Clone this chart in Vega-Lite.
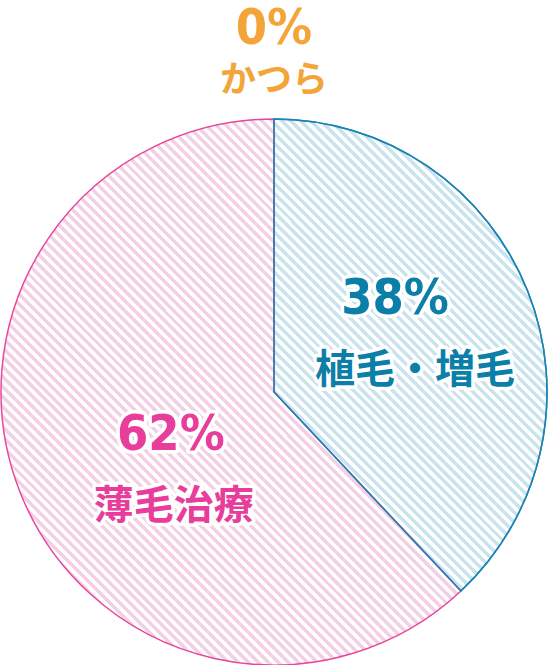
{
"$schema": "https://vega.github.io/schema/vega-lite/v6.json",
"width": 548, "height": 546,
"autosize": "none",
"padding": {"top": 119, "left": 0, "right": 0, "bottom": 0},
"background": "#ffffff",
"config": {"view": {"stroke": null}},
"data": {"values": [
  {"cat": "植毛・増毛", "value": 38, "pct": "38%"},
  {"cat": "薄毛治療", "value": 62, "pct": "62%"},
  {"cat": "かつら", "value": 0, "pct": "0%"}
]},
"encoding": {
  "theta": {"field": "value", "type": "quantitative", "stack": true},
  "order": {"field": "cat", "type": "ordinal", "sort": "ascending"}
},
"layer": [
{
  "mark": {"type": "arc", "strokeWidth": 1.5},
  "encoding": {
    "fill": {"condition": [
      {"test": "datum.cat === '植毛・増毛'", "value": {"gradient": "linear", "x1": 0, "y1": 1, "x2": 0.909, "y2": -0.571, "stops": [
{"offset":0,"color":"#cae4ee"},{"offset":0.005,"color":"#cae4ee"},{"offset":0.005,"color":"#fff"},{"offset":0.01,"color":"#fff"},
{"offset":0.01,"color":"#cae4ee"},{"offset":0.015,"color":"#cae4ee"},{"offset":0.015,"color":"#fff"},{"offset":0.02,"color":"#fff"},
{"offset":0.02,"color":"#cae4ee"},{"offset":0.025,"color":"#cae4ee"},{"offset":0.025,"color":"#fff"},{"offset":0.03,"color":"#fff"},
{"offset":0.03,"color":"#cae4ee"},{"offset":0.035,"color":"#cae4ee"},{"offset":0.035,"color":"#fff"},{"offset":0.04,"color":"#fff"},
{"offset":0.04,"color":"#cae4ee"},{"offset":0.045,"color":"#cae4ee"},{"offset":0.045,"color":"#fff"},{"offset":0.05,"color":"#fff"},
{"offset":0.05,"color":"#cae4ee"},{"offset":0.055,"color":"#cae4ee"},{"offset":0.055,"color":"#fff"},{"offset":0.06,"color":"#fff"},
{"offset":0.06,"color":"#cae4ee"},{"offset":0.065,"color":"#cae4ee"},{"offset":0.065,"color":"#fff"},{"offset":0.07,"color":"#fff"},
{"offset":0.07,"color":"#cae4ee"},{"offset":0.075,"color":"#cae4ee"},{"offset":0.075,"color":"#fff"},{"offset":0.08,"color":"#fff"},
{"offset":0.08,"color":"#cae4ee"},{"offset":0.085,"color":"#cae4ee"},{"offset":0.085,"color":"#fff"},{"offset":0.09,"color":"#fff"},
{"offset":0.09,"color":"#cae4ee"},{"offset":0.095,"color":"#cae4ee"},{"offset":0.095,"color":"#fff"},{"offset":0.1,"color":"#fff"},
{"offset":0.1,"color":"#cae4ee"},{"offset":0.105,"color":"#cae4ee"},{"offset":0.105,"color":"#fff"},{"offset":0.11,"color":"#fff"},
{"offset":0.11,"color":"#cae4ee"},{"offset":0.115,"color":"#cae4ee"},{"offset":0.115,"color":"#fff"},{"offset":0.12,"color":"#fff"},
{"offset":0.12,"color":"#cae4ee"},{"offset":0.125,"color":"#cae4ee"},{"offset":0.125,"color":"#fff"},{"offset":0.13,"color":"#fff"},
{"offset":0.13,"color":"#cae4ee"},{"offset":0.135,"color":"#cae4ee"},{"offset":0.135,"color":"#fff"},{"offset":0.14,"color":"#fff"},
{"offset":0.14,"color":"#cae4ee"},{"offset":0.145,"color":"#cae4ee"},{"offset":0.145,"color":"#fff"},{"offset":0.15,"color":"#fff"},
{"offset":0.15,"color":"#cae4ee"},{"offset":0.155,"color":"#cae4ee"},{"offset":0.155,"color":"#fff"},{"offset":0.16,"color":"#fff"},
{"offset":0.16,"color":"#cae4ee"},{"offset":0.165,"color":"#cae4ee"},{"offset":0.165,"color":"#fff"},{"offset":0.17,"color":"#fff"},
{"offset":0.17,"color":"#cae4ee"},{"offset":0.175,"color":"#cae4ee"},{"offset":0.175,"color":"#fff"},{"offset":0.18,"color":"#fff"},
{"offset":0.18,"color":"#cae4ee"},{"offset":0.185,"color":"#cae4ee"},{"offset":0.185,"color":"#fff"},{"offset":0.19,"color":"#fff"},
{"offset":0.19,"color":"#cae4ee"},{"offset":0.195,"color":"#cae4ee"},{"offset":0.195,"color":"#fff"},{"offset":0.2,"color":"#fff"},
{"offset":0.2,"color":"#cae4ee"},{"offset":0.205,"color":"#cae4ee"},{"offset":0.205,"color":"#fff"},{"offset":0.21,"color":"#fff"},
{"offset":0.21,"color":"#cae4ee"},{"offset":0.215,"color":"#cae4ee"},{"offset":0.215,"color":"#fff"},{"offset":0.22,"color":"#fff"},
{"offset":0.22,"color":"#cae4ee"},{"offset":0.225,"color":"#cae4ee"},{"offset":0.225,"color":"#fff"},{"offset":0.23,"color":"#fff"},
{"offset":0.23,"color":"#cae4ee"},{"offset":0.235,"color":"#cae4ee"},{"offset":0.235,"color":"#fff"},{"offset":0.24,"color":"#fff"},
{"offset":0.24,"color":"#cae4ee"},{"offset":0.245,"color":"#cae4ee"},{"offset":0.245,"color":"#fff"},{"offset":0.25,"color":"#fff"},
{"offset":0.25,"color":"#cae4ee"},{"offset":0.255,"color":"#cae4ee"},{"offset":0.255,"color":"#fff"},{"offset":0.26,"color":"#fff"},
{"offset":0.26,"color":"#cae4ee"},{"offset":0.265,"color":"#cae4ee"},{"offset":0.265,"color":"#fff"},{"offset":0.27,"color":"#fff"},
{"offset":0.27,"color":"#cae4ee"},{"offset":0.275,"color":"#cae4ee"},{"offset":0.275,"color":"#fff"},{"offset":0.28,"color":"#fff"},
{"offset":0.28,"color":"#cae4ee"},{"offset":0.285,"color":"#cae4ee"},{"offset":0.285,"color":"#fff"},{"offset":0.29,"color":"#fff"},
{"offset":0.29,"color":"#cae4ee"},{"offset":0.295,"color":"#cae4ee"},{"offset":0.295,"color":"#fff"},{"offset":0.3,"color":"#fff"},
{"offset":0.3,"color":"#cae4ee"},{"offset":0.305,"color":"#cae4ee"},{"offset":0.305,"color":"#fff"},{"offset":0.31,"color":"#fff"},
{"offset":0.31,"color":"#cae4ee"},{"offset":0.315,"color":"#cae4ee"},{"offset":0.315,"color":"#fff"},{"offset":0.32,"color":"#fff"},
{"offset":0.32,"color":"#cae4ee"},{"offset":0.325,"color":"#cae4ee"},{"offset":0.325,"color":"#fff"},{"offset":0.33,"color":"#fff"},
{"offset":0.33,"color":"#cae4ee"},{"offset":0.335,"color":"#cae4ee"},{"offset":0.335,"color":"#fff"},{"offset":0.34,"color":"#fff"},
{"offset":0.34,"color":"#cae4ee"},{"offset":0.345,"color":"#cae4ee"},{"offset":0.345,"color":"#fff"},{"offset":0.35,"color":"#fff"},
{"offset":0.35,"color":"#cae4ee"},{"offset":0.355,"color":"#cae4ee"},{"offset":0.355,"color":"#fff"},{"offset":0.36,"color":"#fff"},
{"offset":0.36,"color":"#cae4ee"},{"offset":0.365,"color":"#cae4ee"},{"offset":0.365,"color":"#fff"},{"offset":0.37,"color":"#fff"},
{"offset":0.37,"color":"#cae4ee"},{"offset":0.375,"color":"#cae4ee"},{"offset":0.375,"color":"#fff"},{"offset":0.38,"color":"#fff"},
{"offset":0.38,"color":"#cae4ee"},{"offset":0.385,"color":"#cae4ee"},{"offset":0.385,"color":"#fff"},{"offset":0.39,"color":"#fff"},
{"offset":0.39,"color":"#cae4ee"},{"offset":0.395,"color":"#cae4ee"},{"offset":0.395,"color":"#fff"},{"offset":0.4,"color":"#fff"},
{"offset":0.4,"color":"#cae4ee"},{"offset":0.405,"color":"#cae4ee"},{"offset":0.405,"color":"#fff"},{"offset":0.41,"color":"#fff"},
{"offset":0.41,"color":"#cae4ee"},{"offset":0.415,"color":"#cae4ee"},{"offset":0.415,"color":"#fff"},{"offset":0.42,"color":"#fff"},
{"offset":0.42,"color":"#cae4ee"},{"offset":0.425,"color":"#cae4ee"},{"offset":0.425,"color":"#fff"},{"offset":0.43,"color":"#fff"},
{"offset":0.43,"color":"#cae4ee"},{"offset":0.435,"color":"#cae4ee"},{"offset":0.435,"color":"#fff"},{"offset":0.44,"color":"#fff"},
{"offset":0.44,"color":"#cae4ee"},{"offset":0.445,"color":"#cae4ee"},{"offset":0.445,"color":"#fff"},{"offset":0.45,"color":"#fff"},
{"offset":0.45,"color":"#cae4ee"},{"offset":0.455,"color":"#cae4ee"},{"offset":0.455,"color":"#fff"},{"offset":0.46,"color":"#fff"},
{"offset":0.46,"color":"#cae4ee"},{"offset":0.465,"color":"#cae4ee"},{"offset":0.465,"color":"#fff"},{"offset":0.47,"color":"#fff"},
{"offset":0.47,"color":"#cae4ee"},{"offset":0.475,"color":"#cae4ee"},{"offset":0.475,"color":"#fff"},{"offset":0.48,"color":"#fff"},
{"offset":0.48,"color":"#cae4ee"},{"offset":0.485,"color":"#cae4ee"},{"offset":0.485,"color":"#fff"},{"offset":0.49,"color":"#fff"},
{"offset":0.49,"color":"#cae4ee"},{"offset":0.495,"color":"#cae4ee"},{"offset":0.495,"color":"#fff"},{"offset":0.5,"color":"#fff"},
{"offset":0.5,"color":"#cae4ee"},{"offset":0.505,"color":"#cae4ee"},{"offset":0.505,"color":"#fff"},{"offset":0.51,"color":"#fff"},
{"offset":0.51,"color":"#cae4ee"},{"offset":0.515,"color":"#cae4ee"},{"offset":0.515,"color":"#fff"},{"offset":0.52,"color":"#fff"},
{"offset":0.52,"color":"#cae4ee"},{"offset":0.525,"color":"#cae4ee"},{"offset":0.525,"color":"#fff"},{"offset":0.53,"color":"#fff"},
{"offset":0.53,"color":"#cae4ee"},{"offset":0.535,"color":"#cae4ee"},{"offset":0.535,"color":"#fff"},{"offset":0.54,"color":"#fff"},
{"offset":0.54,"color":"#cae4ee"},{"offset":0.545,"color":"#cae4ee"},{"offset":0.545,"color":"#fff"},{"offset":0.55,"color":"#fff"},
{"offset":0.55,"color":"#cae4ee"},{"offset":0.555,"color":"#cae4ee"},{"offset":0.555,"color":"#fff"},{"offset":0.56,"color":"#fff"},
{"offset":0.56,"color":"#cae4ee"},{"offset":0.565,"color":"#cae4ee"},{"offset":0.565,"color":"#fff"},{"offset":0.57,"color":"#fff"},
{"offset":0.57,"color":"#cae4ee"},{"offset":0.575,"color":"#cae4ee"},{"offset":0.575,"color":"#fff"},{"offset":0.58,"color":"#fff"},
{"offset":0.58,"color":"#cae4ee"},{"offset":0.585,"color":"#cae4ee"},{"offset":0.585,"color":"#fff"},{"offset":0.59,"color":"#fff"},
{"offset":0.59,"color":"#cae4ee"},{"offset":0.595,"color":"#cae4ee"},{"offset":0.595,"color":"#fff"},{"offset":0.6,"color":"#fff"},
{"offset":0.6,"color":"#cae4ee"},{"offset":0.605,"color":"#cae4ee"},{"offset":0.605,"color":"#fff"},{"offset":0.61,"color":"#fff"},
{"offset":0.61,"color":"#cae4ee"},{"offset":0.615,"color":"#cae4ee"},{"offset":0.615,"color":"#fff"},{"offset":0.62,"color":"#fff"},
{"offset":0.62,"color":"#cae4ee"},{"offset":0.625,"color":"#cae4ee"},{"offset":0.625,"color":"#fff"},{"offset":0.63,"color":"#fff"},
{"offset":0.63,"color":"#cae4ee"},{"offset":0.635,"color":"#cae4ee"},{"offset":0.635,"color":"#fff"},{"offset":0.64,"color":"#fff"},
{"offset":0.64,"color":"#cae4ee"},{"offset":0.645,"color":"#cae4ee"},{"offset":0.645,"color":"#fff"},{"offset":0.65,"color":"#fff"},
{"offset":0.65,"color":"#cae4ee"},{"offset":0.655,"color":"#cae4ee"},{"offset":0.655,"color":"#fff"},{"offset":0.66,"color":"#fff"},
{"offset":0.66,"color":"#cae4ee"},{"offset":0.665,"color":"#cae4ee"},{"offset":0.665,"color":"#fff"},{"offset":0.67,"color":"#fff"},
{"offset":0.67,"color":"#cae4ee"},{"offset":0.675,"color":"#cae4ee"},{"offset":0.675,"color":"#fff"},{"offset":0.68,"color":"#fff"},
{"offset":0.68,"color":"#cae4ee"},{"offset":0.685,"color":"#cae4ee"},{"offset":0.685,"color":"#fff"},{"offset":0.69,"color":"#fff"},
{"offset":0.69,"color":"#cae4ee"},{"offset":0.695,"color":"#cae4ee"},{"offset":0.695,"color":"#fff"},{"offset":0.7,"color":"#fff"},
{"offset":0.7,"color":"#cae4ee"},{"offset":0.705,"color":"#cae4ee"},{"offset":0.705,"color":"#fff"},{"offset":0.71,"color":"#fff"},
{"offset":0.71,"color":"#cae4ee"},{"offset":0.715,"color":"#cae4ee"},{"offset":0.715,"color":"#fff"},{"offset":0.72,"color":"#fff"},
{"offset":0.72,"color":"#cae4ee"},{"offset":0.725,"color":"#cae4ee"},{"offset":0.725,"color":"#fff"},{"offset":0.73,"color":"#fff"},
{"offset":0.73,"color":"#cae4ee"},{"offset":0.735,"color":"#cae4ee"},{"offset":0.735,"color":"#fff"},{"offset":0.74,"color":"#fff"},
{"offset":0.74,"color":"#cae4ee"},{"offset":0.745,"color":"#cae4ee"},{"offset":0.745,"color":"#fff"},{"offset":0.75,"color":"#fff"},
{"offset":0.75,"color":"#cae4ee"},{"offset":0.755,"color":"#cae4ee"},{"offset":0.755,"color":"#fff"},{"offset":0.76,"color":"#fff"}
      ]}},
      {"test": "datum.cat === '薄毛治療'", "value": {"gradient": "linear", "x1": 0, "y1": 1, "x2": 0.894, "y2": -0.061, "stops": [
{"offset":0,"color":"#f4d0e4"},{"offset":0.005,"color":"#f4d0e4"},{"offset":0.005,"color":"#fff"},{"offset":0.01,"color":"#fff"},
{"offset":0.01,"color":"#f4d0e4"},{"offset":0.015,"color":"#f4d0e4"},{"offset":0.015,"color":"#fff"},{"offset":0.02,"color":"#fff"},
{"offset":0.02,"color":"#f4d0e4"},{"offset":0.025,"color":"#f4d0e4"},{"offset":0.025,"color":"#fff"},{"offset":0.03,"color":"#fff"},
{"offset":0.03,"color":"#f4d0e4"},{"offset":0.035,"color":"#f4d0e4"},{"offset":0.035,"color":"#fff"},{"offset":0.04,"color":"#fff"},
{"offset":0.04,"color":"#f4d0e4"},{"offset":0.045,"color":"#f4d0e4"},{"offset":0.045,"color":"#fff"},{"offset":0.05,"color":"#fff"},
{"offset":0.05,"color":"#f4d0e4"},{"offset":0.055,"color":"#f4d0e4"},{"offset":0.055,"color":"#fff"},{"offset":0.06,"color":"#fff"},
{"offset":0.06,"color":"#f4d0e4"},{"offset":0.065,"color":"#f4d0e4"},{"offset":0.065,"color":"#fff"},{"offset":0.07,"color":"#fff"},
{"offset":0.07,"color":"#f4d0e4"},{"offset":0.075,"color":"#f4d0e4"},{"offset":0.075,"color":"#fff"},{"offset":0.08,"color":"#fff"},
{"offset":0.08,"color":"#f4d0e4"},{"offset":0.085,"color":"#f4d0e4"},{"offset":0.085,"color":"#fff"},{"offset":0.09,"color":"#fff"},
{"offset":0.09,"color":"#f4d0e4"},{"offset":0.095,"color":"#f4d0e4"},{"offset":0.095,"color":"#fff"},{"offset":0.1,"color":"#fff"},
{"offset":0.1,"color":"#f4d0e4"},{"offset":0.105,"color":"#f4d0e4"},{"offset":0.105,"color":"#fff"},{"offset":0.11,"color":"#fff"},
{"offset":0.11,"color":"#f4d0e4"},{"offset":0.115,"color":"#f4d0e4"},{"offset":0.115,"color":"#fff"},{"offset":0.12,"color":"#fff"},
{"offset":0.12,"color":"#f4d0e4"},{"offset":0.125,"color":"#f4d0e4"},{"offset":0.125,"color":"#fff"},{"offset":0.13,"color":"#fff"},
{"offset":0.13,"color":"#f4d0e4"},{"offset":0.135,"color":"#f4d0e4"},{"offset":0.135,"color":"#fff"},{"offset":0.14,"color":"#fff"},
{"offset":0.14,"color":"#f4d0e4"},{"offset":0.145,"color":"#f4d0e4"},{"offset":0.145,"color":"#fff"},{"offset":0.15,"color":"#fff"},
{"offset":0.15,"color":"#f4d0e4"},{"offset":0.155,"color":"#f4d0e4"},{"offset":0.155,"color":"#fff"},{"offset":0.16,"color":"#fff"},
{"offset":0.16,"color":"#f4d0e4"},{"offset":0.165,"color":"#f4d0e4"},{"offset":0.165,"color":"#fff"},{"offset":0.17,"color":"#fff"},
{"offset":0.17,"color":"#f4d0e4"},{"offset":0.175,"color":"#f4d0e4"},{"offset":0.175,"color":"#fff"},{"offset":0.18,"color":"#fff"},
{"offset":0.18,"color":"#f4d0e4"},{"offset":0.185,"color":"#f4d0e4"},{"offset":0.185,"color":"#fff"},{"offset":0.19,"color":"#fff"},
{"offset":0.19,"color":"#f4d0e4"},{"offset":0.195,"color":"#f4d0e4"},{"offset":0.195,"color":"#fff"},{"offset":0.2,"color":"#fff"},
{"offset":0.2,"color":"#f4d0e4"},{"offset":0.205,"color":"#f4d0e4"},{"offset":0.205,"color":"#fff"},{"offset":0.21,"color":"#fff"},
{"offset":0.21,"color":"#f4d0e4"},{"offset":0.215,"color":"#f4d0e4"},{"offset":0.215,"color":"#fff"},{"offset":0.22,"color":"#fff"},
{"offset":0.22,"color":"#f4d0e4"},{"offset":0.225,"color":"#f4d0e4"},{"offset":0.225,"color":"#fff"},{"offset":0.23,"color":"#fff"},
{"offset":0.23,"color":"#f4d0e4"},{"offset":0.235,"color":"#f4d0e4"},{"offset":0.235,"color":"#fff"},{"offset":0.24,"color":"#fff"},
{"offset":0.24,"color":"#f4d0e4"},{"offset":0.245,"color":"#f4d0e4"},{"offset":0.245,"color":"#fff"},{"offset":0.25,"color":"#fff"},
{"offset":0.25,"color":"#f4d0e4"},{"offset":0.255,"color":"#f4d0e4"},{"offset":0.255,"color":"#fff"},{"offset":0.26,"color":"#fff"},
{"offset":0.26,"color":"#f4d0e4"},{"offset":0.265,"color":"#f4d0e4"},{"offset":0.265,"color":"#fff"},{"offset":0.27,"color":"#fff"},
{"offset":0.27,"color":"#f4d0e4"},{"offset":0.275,"color":"#f4d0e4"},{"offset":0.275,"color":"#fff"},{"offset":0.28,"color":"#fff"},
{"offset":0.28,"color":"#f4d0e4"},{"offset":0.285,"color":"#f4d0e4"},{"offset":0.285,"color":"#fff"},{"offset":0.29,"color":"#fff"},
{"offset":0.29,"color":"#f4d0e4"},{"offset":0.295,"color":"#f4d0e4"},{"offset":0.295,"color":"#fff"},{"offset":0.3,"color":"#fff"},
{"offset":0.3,"color":"#f4d0e4"},{"offset":0.305,"color":"#f4d0e4"},{"offset":0.305,"color":"#fff"},{"offset":0.31,"color":"#fff"},
{"offset":0.31,"color":"#f4d0e4"},{"offset":0.315,"color":"#f4d0e4"},{"offset":0.315,"color":"#fff"},{"offset":0.32,"color":"#fff"},
{"offset":0.32,"color":"#f4d0e4"},{"offset":0.325,"color":"#f4d0e4"},{"offset":0.325,"color":"#fff"},{"offset":0.33,"color":"#fff"},
{"offset":0.33,"color":"#f4d0e4"},{"offset":0.335,"color":"#f4d0e4"},{"offset":0.335,"color":"#fff"},{"offset":0.34,"color":"#fff"},
{"offset":0.34,"color":"#f4d0e4"},{"offset":0.345,"color":"#f4d0e4"},{"offset":0.345,"color":"#fff"},{"offset":0.35,"color":"#fff"},
{"offset":0.35,"color":"#f4d0e4"},{"offset":0.355,"color":"#f4d0e4"},{"offset":0.355,"color":"#fff"},{"offset":0.36,"color":"#fff"},
{"offset":0.36,"color":"#f4d0e4"},{"offset":0.365,"color":"#f4d0e4"},{"offset":0.365,"color":"#fff"},{"offset":0.37,"color":"#fff"},
{"offset":0.37,"color":"#f4d0e4"},{"offset":0.375,"color":"#f4d0e4"},{"offset":0.375,"color":"#fff"},{"offset":0.38,"color":"#fff"},
{"offset":0.38,"color":"#f4d0e4"},{"offset":0.385,"color":"#f4d0e4"},{"offset":0.385,"color":"#fff"},{"offset":0.39,"color":"#fff"},
{"offset":0.39,"color":"#f4d0e4"},{"offset":0.395,"color":"#f4d0e4"},{"offset":0.395,"color":"#fff"},{"offset":0.4,"color":"#fff"},
{"offset":0.4,"color":"#f4d0e4"},{"offset":0.405,"color":"#f4d0e4"},{"offset":0.405,"color":"#fff"},{"offset":0.41,"color":"#fff"},
{"offset":0.41,"color":"#f4d0e4"},{"offset":0.415,"color":"#f4d0e4"},{"offset":0.415,"color":"#fff"},{"offset":0.42,"color":"#fff"},
{"offset":0.42,"color":"#f4d0e4"},{"offset":0.425,"color":"#f4d0e4"},{"offset":0.425,"color":"#fff"},{"offset":0.43,"color":"#fff"},
{"offset":0.43,"color":"#f4d0e4"},{"offset":0.435,"color":"#f4d0e4"},{"offset":0.435,"color":"#fff"},{"offset":0.44,"color":"#fff"},
{"offset":0.44,"color":"#f4d0e4"},{"offset":0.445,"color":"#f4d0e4"},{"offset":0.445,"color":"#fff"},{"offset":0.45,"color":"#fff"},
{"offset":0.45,"color":"#f4d0e4"},{"offset":0.455,"color":"#f4d0e4"},{"offset":0.455,"color":"#fff"},{"offset":0.46,"color":"#fff"},
{"offset":0.46,"color":"#f4d0e4"},{"offset":0.465,"color":"#f4d0e4"},{"offset":0.465,"color":"#fff"},{"offset":0.47,"color":"#fff"},
{"offset":0.47,"color":"#f4d0e4"},{"offset":0.475,"color":"#f4d0e4"},{"offset":0.475,"color":"#fff"},{"offset":0.48,"color":"#fff"},
{"offset":0.48,"color":"#f4d0e4"},{"offset":0.485,"color":"#f4d0e4"},{"offset":0.485,"color":"#fff"},{"offset":0.49,"color":"#fff"},
{"offset":0.49,"color":"#f4d0e4"},{"offset":0.495,"color":"#f4d0e4"},{"offset":0.495,"color":"#fff"},{"offset":0.5,"color":"#fff"},
{"offset":0.5,"color":"#f4d0e4"},{"offset":0.505,"color":"#f4d0e4"},{"offset":0.505,"color":"#fff"},{"offset":0.51,"color":"#fff"},
{"offset":0.51,"color":"#f4d0e4"},{"offset":0.515,"color":"#f4d0e4"},{"offset":0.515,"color":"#fff"},{"offset":0.52,"color":"#fff"},
{"offset":0.52,"color":"#f4d0e4"},{"offset":0.525,"color":"#f4d0e4"},{"offset":0.525,"color":"#fff"},{"offset":0.53,"color":"#fff"},
{"offset":0.53,"color":"#f4d0e4"},{"offset":0.535,"color":"#f4d0e4"},{"offset":0.535,"color":"#fff"},{"offset":0.54,"color":"#fff"},
{"offset":0.54,"color":"#f4d0e4"},{"offset":0.545,"color":"#f4d0e4"},{"offset":0.545,"color":"#fff"},{"offset":0.55,"color":"#fff"},
{"offset":0.55,"color":"#f4d0e4"},{"offset":0.555,"color":"#f4d0e4"},{"offset":0.555,"color":"#fff"},{"offset":0.56,"color":"#fff"},
{"offset":0.56,"color":"#f4d0e4"},{"offset":0.565,"color":"#f4d0e4"},{"offset":0.565,"color":"#fff"},{"offset":0.57,"color":"#fff"},
{"offset":0.57,"color":"#f4d0e4"},{"offset":0.575,"color":"#f4d0e4"},{"offset":0.575,"color":"#fff"},{"offset":0.58,"color":"#fff"},
{"offset":0.58,"color":"#f4d0e4"},{"offset":0.585,"color":"#f4d0e4"},{"offset":0.585,"color":"#fff"},{"offset":0.59,"color":"#fff"},
{"offset":0.59,"color":"#f4d0e4"},{"offset":0.595,"color":"#f4d0e4"},{"offset":0.595,"color":"#fff"},{"offset":0.6,"color":"#fff"},
{"offset":0.6,"color":"#f4d0e4"},{"offset":0.605,"color":"#f4d0e4"},{"offset":0.605,"color":"#fff"},{"offset":0.61,"color":"#fff"},
{"offset":0.61,"color":"#f4d0e4"},{"offset":0.615,"color":"#f4d0e4"},{"offset":0.615,"color":"#fff"},{"offset":0.62,"color":"#fff"},
{"offset":0.62,"color":"#f4d0e4"},{"offset":0.625,"color":"#f4d0e4"},{"offset":0.625,"color":"#fff"},{"offset":0.63,"color":"#fff"},
{"offset":0.63,"color":"#f4d0e4"},{"offset":0.635,"color":"#f4d0e4"},{"offset":0.635,"color":"#fff"},{"offset":0.64,"color":"#fff"},
{"offset":0.64,"color":"#f4d0e4"},{"offset":0.645,"color":"#f4d0e4"},{"offset":0.645,"color":"#fff"},{"offset":0.65,"color":"#fff"},
{"offset":0.65,"color":"#f4d0e4"},{"offset":0.655,"color":"#f4d0e4"},{"offset":0.655,"color":"#fff"},{"offset":0.66,"color":"#fff"},
{"offset":0.66,"color":"#f4d0e4"},{"offset":0.665,"color":"#f4d0e4"},{"offset":0.665,"color":"#fff"},{"offset":0.67,"color":"#fff"},
{"offset":0.67,"color":"#f4d0e4"},{"offset":0.675,"color":"#f4d0e4"},{"offset":0.675,"color":"#fff"},{"offset":0.68,"color":"#fff"},
{"offset":0.68,"color":"#f4d0e4"},{"offset":0.685,"color":"#f4d0e4"},{"offset":0.685,"color":"#fff"},{"offset":0.69,"color":"#fff"},
{"offset":0.69,"color":"#f4d0e4"},{"offset":0.695,"color":"#f4d0e4"},{"offset":0.695,"color":"#fff"},{"offset":0.7,"color":"#fff"},
{"offset":0.7,"color":"#f4d0e4"},{"offset":0.705,"color":"#f4d0e4"},{"offset":0.705,"color":"#fff"},{"offset":0.71,"color":"#fff"},
{"offset":0.71,"color":"#f4d0e4"},{"offset":0.715,"color":"#f4d0e4"},{"offset":0.715,"color":"#fff"},{"offset":0.72,"color":"#fff"},
{"offset":0.72,"color":"#f4d0e4"},{"offset":0.725,"color":"#f4d0e4"},{"offset":0.725,"color":"#fff"},{"offset":0.73,"color":"#fff"},
{"offset":0.73,"color":"#f4d0e4"},{"offset":0.735,"color":"#f4d0e4"},{"offset":0.735,"color":"#fff"},{"offset":0.74,"color":"#fff"},
{"offset":0.74,"color":"#f4d0e4"},{"offset":0.745,"color":"#f4d0e4"},{"offset":0.745,"color":"#fff"},{"offset":0.75,"color":"#fff"},
{"offset":0.75,"color":"#f4d0e4"},{"offset":0.755,"color":"#f4d0e4"},{"offset":0.755,"color":"#fff"},{"offset":0.76,"color":"#fff"},
{"offset":0.76,"color":"#f4d0e4"},{"offset":0.765,"color":"#f4d0e4"},{"offset":0.765,"color":"#fff"},{"offset":0.77,"color":"#fff"},
{"offset":0.77,"color":"#f4d0e4"},{"offset":0.775,"color":"#f4d0e4"},{"offset":0.775,"color":"#fff"},{"offset":0.78,"color":"#fff"},
{"offset":0.78,"color":"#f4d0e4"},{"offset":0.785,"color":"#f4d0e4"},{"offset":0.785,"color":"#fff"},{"offset":0.79,"color":"#fff"},
{"offset":0.79,"color":"#f4d0e4"},{"offset":0.795,"color":"#f4d0e4"},{"offset":0.795,"color":"#fff"},{"offset":0.8,"color":"#fff"},
{"offset":0.8,"color":"#f4d0e4"},{"offset":0.805,"color":"#f4d0e4"},{"offset":0.805,"color":"#fff"},{"offset":0.81,"color":"#fff"},
{"offset":0.81,"color":"#f4d0e4"},{"offset":0.815,"color":"#f4d0e4"},{"offset":0.815,"color":"#fff"},{"offset":0.82,"color":"#fff"},
{"offset":0.82,"color":"#f4d0e4"},{"offset":0.825,"color":"#f4d0e4"},{"offset":0.825,"color":"#fff"},{"offset":0.83,"color":"#fff"},
{"offset":0.83,"color":"#f4d0e4"},{"offset":0.835,"color":"#f4d0e4"},{"offset":0.835,"color":"#fff"},{"offset":0.84,"color":"#fff"},
{"offset":0.84,"color":"#f4d0e4"},{"offset":0.845,"color":"#f4d0e4"},{"offset":0.845,"color":"#fff"},{"offset":0.85,"color":"#fff"},
{"offset":0.85,"color":"#f4d0e4"},{"offset":0.855,"color":"#f4d0e4"},{"offset":0.855,"color":"#fff"},{"offset":0.86,"color":"#fff"},
{"offset":0.86,"color":"#f4d0e4"},{"offset":0.865,"color":"#f4d0e4"},{"offset":0.865,"color":"#fff"},{"offset":0.87,"color":"#fff"},
{"offset":0.87,"color":"#f4d0e4"},{"offset":0.875,"color":"#f4d0e4"},{"offset":0.875,"color":"#fff"},{"offset":0.88,"color":"#fff"},
{"offset":0.88,"color":"#f4d0e4"},{"offset":0.885,"color":"#f4d0e4"},{"offset":0.885,"color":"#fff"},{"offset":0.89,"color":"#fff"},
{"offset":0.89,"color":"#f4d0e4"},{"offset":0.895,"color":"#f4d0e4"},{"offset":0.895,"color":"#fff"},{"offset":0.9,"color":"#fff"},
{"offset":0.9,"color":"#f4d0e4"},{"offset":0.905,"color":"#f4d0e4"},{"offset":0.905,"color":"#fff"},{"offset":0.91,"color":"#fff"},
{"offset":0.91,"color":"#f4d0e4"},{"offset":0.915,"color":"#f4d0e4"},{"offset":0.915,"color":"#fff"},{"offset":0.92,"color":"#fff"},
{"offset":0.92,"color":"#f4d0e4"},{"offset":0.925,"color":"#f4d0e4"},{"offset":0.925,"color":"#fff"},{"offset":0.93,"color":"#fff"},
{"offset":0.93,"color":"#f4d0e4"},{"offset":0.935,"color":"#f4d0e4"},{"offset":0.935,"color":"#fff"},{"offset":0.94,"color":"#fff"},
{"offset":0.94,"color":"#f4d0e4"},{"offset":0.945,"color":"#f4d0e4"},{"offset":0.945,"color":"#fff"},{"offset":0.95,"color":"#fff"},
{"offset":0.95,"color":"#f4d0e4"},{"offset":0.955,"color":"#f4d0e4"},{"offset":0.955,"color":"#fff"},{"offset":0.96,"color":"#fff"},
{"offset":0.96,"color":"#f4d0e4"},{"offset":0.965,"color":"#f4d0e4"},{"offset":0.965,"color":"#fff"},{"offset":0.97,"color":"#fff"},
{"offset":0.97,"color":"#f4d0e4"},{"offset":0.975,"color":"#f4d0e4"},{"offset":0.975,"color":"#fff"},{"offset":0.98,"color":"#fff"},
{"offset":0.98,"color":"#f4d0e4"},{"offset":0.985,"color":"#f4d0e4"},{"offset":0.985,"color":"#fff"},{"offset":0.99,"color":"#fff"},
{"offset":0.99,"color":"#f4d0e4"},{"offset":0.995,"color":"#f4d0e4"},{"offset":0.995,"color":"#fff"},{"offset":1,"color":"#fff"}
      ]}}
    ], "value": "transparent"},
    "stroke": {"condition": [
      {"test": "datum.cat === '植毛・増毛'", "value": "#1b83b5"},
      {"test": "datum.cat === '薄毛治療'", "value": "#e6489d"}
    ], "value": "transparent"}
  }
},
{
  "mark": {"type": "arc", "filled": false, "strokeWidth": 1.5},
  "encoding": {
    "stroke": {"condition": {"test": "datum.cat === '植毛・増毛'", "value": "#1b83b5"}, "value": "transparent"}
  }
},
{
  "mark": {"type": "text", "radius": 141, "dx": -10, "dy": -41, "align": "center", "baseline": "middle", "font": "Liberation Sans Narrow, DejaVu Sans Condensed, Liberation Sans, sans-serif", "fontSize": 50, "fontWeight": "bold", "fill": "#ffffff", "stroke": "#ffffff", "strokeWidth": 7, "strokeJoin": "round"},
  "encoding": {"text": {"condition": {"test": "datum.cat === '植毛・増毛'", "field": "pct", "type": "nominal"}, "value": ""}}
},
{
  "mark": {"type": "text", "radius": 141, "dx": -10, "dy": -41, "align": "center", "baseline": "middle", "font": "Liberation Sans Narrow, DejaVu Sans Condensed, Liberation Sans, sans-serif", "fontSize": 50, "fontWeight": "bold", "fill": "#0b7fa8"},
  "encoding": {"text": {"condition": {"test": "datum.cat === '植毛・増毛'", "field": "pct", "type": "nominal"}, "value": ""}}
},
{
  "mark": {"type": "text", "radius": 141, "dx": 10, "dy": 31, "align": "center", "baseline": "middle", "font": "Noto Sans CJK JP", "fontSize": 40, "fontWeight": "bold", "fill": "#ffffff", "stroke": "#ffffff", "strokeWidth": 7, "strokeJoin": "round"},
  "encoding": {"text": {"condition": {"test": "datum.cat === '植毛・増毛'", "field": "cat", "type": "nominal"}, "value": ""}}
},
{
  "mark": {"type": "text", "radius": 141, "dx": 10, "dy": 31, "align": "center", "baseline": "middle", "font": "Noto Sans CJK JP", "fontSize": 40, "fontWeight": "bold", "fill": "#0b7fa8"},
  "encoding": {"text": {"condition": {"test": "datum.cat === '植毛・増毛'", "field": "cat", "type": "nominal"}, "value": ""}}
},
{
  "mark": {"type": "text", "radius": 112, "dx": 1, "dy": 2, "align": "center", "baseline": "middle", "font": "Liberation Sans Narrow, DejaVu Sans Condensed, Liberation Sans, sans-serif", "fontSize": 50, "fontWeight": "bold", "fill": "#ffffff", "stroke": "#ffffff", "strokeWidth": 7, "strokeJoin": "round"},
  "encoding": {"text": {"condition": {"test": "datum.cat === '薄毛治療'", "field": "pct", "type": "nominal"}, "value": ""}}
},
{
  "mark": {"type": "text", "radius": 112, "dx": 1, "dy": 2, "align": "center", "baseline": "middle", "font": "Liberation Sans Narrow, DejaVu Sans Condensed, Liberation Sans, sans-serif", "fontSize": 50, "fontWeight": "bold", "fill": "#e83d9b"},
  "encoding": {"text": {"condition": {"test": "datum.cat === '薄毛治療'", "field": "pct", "type": "nominal"}, "value": ""}}
},
{
  "mark": {"type": "text", "radius": 112, "dx": 4, "dy": 74, "align": "center", "baseline": "middle", "font": "Noto Sans CJK JP", "fontSize": 40, "fontWeight": "bold", "fill": "#ffffff", "stroke": "#ffffff", "strokeWidth": 7, "strokeJoin": "round"},
  "encoding": {"text": {"condition": {"test": "datum.cat === '薄毛治療'", "field": "cat", "type": "nominal"}, "value": ""}}
},
{
  "mark": {"type": "text", "radius": 112, "dx": 4, "dy": 74, "align": "center", "baseline": "middle", "font": "Noto Sans CJK JP", "fontSize": 40, "fontWeight": "bold", "fill": "#e83d9b"},
  "encoding": {"text": {"condition": {"test": "datum.cat === '薄毛治療'", "field": "cat", "type": "nominal"}, "value": ""}}
},
{
  "mark": {"type": "text", "radius": 363, "align": "center", "baseline": "middle", "font": "Liberation Sans Narrow, DejaVu Sans Condensed, Liberation Sans, sans-serif", "fontSize": 50, "fontWeight": "bold", "fill": "#f4a539"},
  "encoding": {"text": {"condition": {"test": "datum.cat === 'かつら'", "field": "pct", "type": "nominal"}, "value": ""}}
},
{
  "mark": {"type": "text", "radius": 311, "align": "center", "baseline": "middle", "font": "Noto Sans CJK JP", "fontSize": 36, "fontWeight": "bold", "fill": "#f4a539"},
  "encoding": {"text": {"condition": {"test": "datum.cat === 'かつら'", "field": "cat", "type": "nominal"}, "value": ""}}
}
]
}
